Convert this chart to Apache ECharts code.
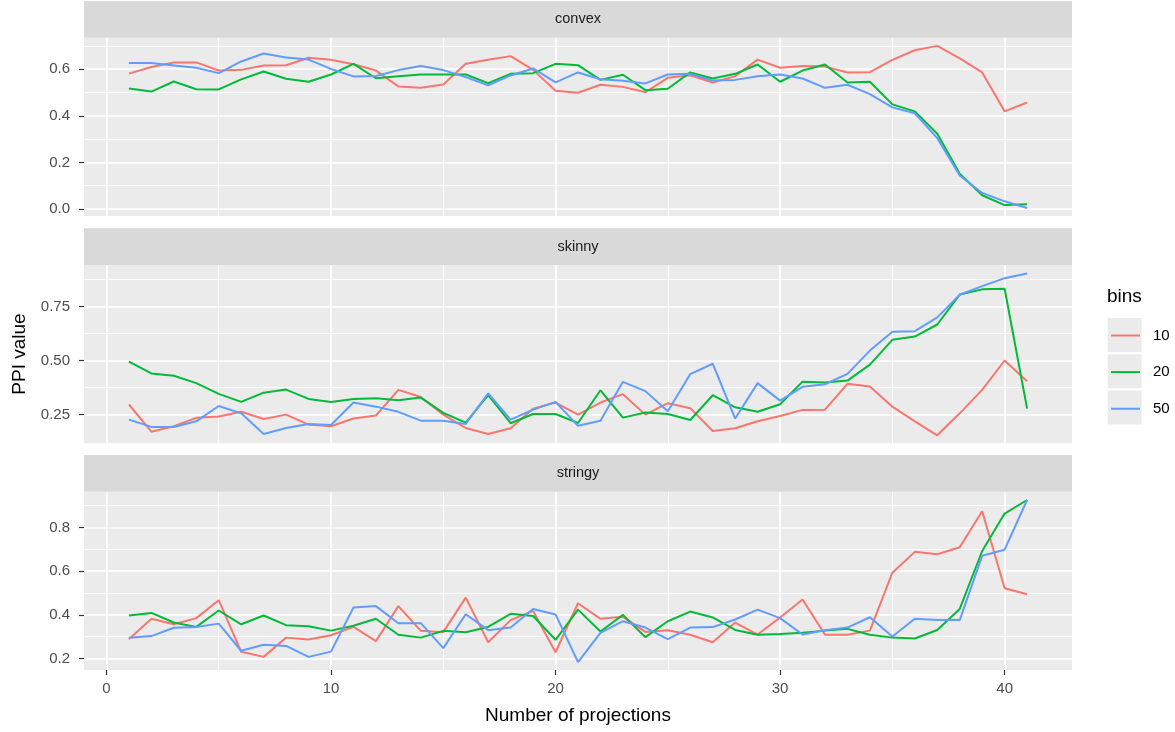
<!DOCTYPE html>
<html>
<head>
<meta charset="utf-8">
<title>PPI value by number of projections</title>
<script src="https://cdn.jsdelivr.net/npm/echarts@6/dist/echarts.min.js"></script>
<style>
  html, body { margin: 0; padding: 0; background: #ffffff; }
  #chart { width: 1175px; height: 732px; }
</style>
</head>
<body>
<div id="chart"></div>
<script>
// data
const projections = [1, 2, 3, 4, 5, 6, 7, 8, 9, 10, 11, 12, 13, 14, 15, 16, 17, 18, 19, 20,
  21, 22, 23, 24, 25, 26, 27, 28, 29, 30, 31, 32, 33, 34, 35, 36, 37, 38, 39, 40, 41]
const facets = ['convex', 'skinny', 'stringy']
const bins = ['10', '20', '50']

const convex10 = [0.581, 0.609, 0.629, 0.629, 0.594, 0.597, 0.616, 0.617, 0.649, 0.640, 0.621, 0.594, 0.526, 0.520, 0.534, 0.623, 0.640, 0.656, 0.597, 0.507,
  0.499, 0.533, 0.524, 0.501, 0.563, 0.574, 0.543, 0.570, 0.641, 0.606, 0.614, 0.611, 0.586, 0.587, 0.640, 0.681, 0.700, 0.646, 0.586, 0.419, 0.457]
const convex20 = [0.517, 0.504, 0.547, 0.514, 0.513, 0.556, 0.590, 0.559, 0.546, 0.577, 0.623, 0.561, 0.570, 0.577, 0.577, 0.577, 0.540, 0.580, 0.583, 0.623,
  0.617, 0.554, 0.576, 0.510, 0.516, 0.586, 0.560, 0.580, 0.620, 0.546, 0.594, 0.620, 0.543, 0.546, 0.449, 0.419, 0.323, 0.151, 0.059, 0.017, 0.020]
const convex50 = [0.626, 0.626, 0.616, 0.606, 0.583, 0.633, 0.667, 0.650, 0.641, 0.601, 0.569, 0.571, 0.596, 0.614, 0.596, 0.566, 0.531, 0.573, 0.603, 0.543,
  0.586, 0.557, 0.550, 0.539, 0.577, 0.580, 0.551, 0.554, 0.570, 0.577, 0.560, 0.520, 0.533, 0.493, 0.436, 0.411, 0.304, 0.144, 0.069, 0.033, 0.004]

const skinny10 = [0.296, 0.170, 0.195, 0.234, 0.240, 0.262, 0.229, 0.249, 0.203, 0.195, 0.231, 0.245, 0.364, 0.331, 0.249, 0.187, 0.159, 0.186, 0.276, 0.305,
  0.249, 0.305, 0.344, 0.249, 0.302, 0.279, 0.173, 0.186, 0.218, 0.243, 0.271, 0.272, 0.392, 0.379, 0.286, 0.218, 0.153, 0.255, 0.364, 0.500, 0.404]
const skinny20 = [0.495, 0.440, 0.429, 0.395, 0.345, 0.308, 0.351, 0.365, 0.322, 0.308, 0.322, 0.325, 0.316, 0.328, 0.257, 0.212, 0.339, 0.209, 0.252, 0.252,
  0.210, 0.362, 0.235, 0.259, 0.252, 0.224, 0.339, 0.283, 0.262, 0.297, 0.402, 0.398, 0.407, 0.481, 0.596, 0.611, 0.667, 0.806, 0.830, 0.833, 0.277]
const skinny50 = [0.226, 0.192, 0.192, 0.218, 0.289, 0.255, 0.159, 0.187, 0.206, 0.201, 0.305, 0.286, 0.262, 0.221, 0.221, 0.206, 0.348, 0.226, 0.272, 0.308,
  0.197, 0.221, 0.401, 0.358, 0.265, 0.437, 0.485, 0.231, 0.395, 0.314, 0.378, 0.390, 0.438, 0.546, 0.633, 0.636, 0.700, 0.805, 0.845, 0.882, 0.904]

const stringy10 = [0.289, 0.382, 0.357, 0.385, 0.467, 0.231, 0.208, 0.296, 0.287, 0.307, 0.345, 0.280, 0.440, 0.327, 0.321, 0.479, 0.275, 0.376, 0.418, 0.229,
  0.453, 0.382, 0.391, 0.322, 0.330, 0.309, 0.275, 0.365, 0.310, 0.388, 0.470, 0.309, 0.309, 0.328, 0.593, 0.688, 0.677, 0.709, 0.874, 0.522, 0.494]
const stringy20 = [0.397, 0.409, 0.365, 0.345, 0.420, 0.357, 0.397, 0.353, 0.348, 0.328, 0.350, 0.382, 0.309, 0.296, 0.327, 0.321, 0.345, 0.405, 0.395, 0.286,
  0.424, 0.324, 0.400, 0.298, 0.371, 0.415, 0.388, 0.331, 0.309, 0.312, 0.318, 0.328, 0.336, 0.309, 0.296, 0.292, 0.331, 0.427, 0.692, 0.863, 0.925]
const stringy50 = [0.295, 0.303, 0.341, 0.345, 0.360, 0.236, 0.263, 0.258, 0.208, 0.232, 0.434, 0.440, 0.362, 0.362, 0.248, 0.403, 0.330, 0.342, 0.427, 0.402,
  0.184, 0.318, 0.371, 0.342, 0.289, 0.342, 0.344, 0.379, 0.424, 0.385, 0.310, 0.330, 0.342, 0.389, 0.301, 0.382, 0.376, 0.376, 0.670, 0.698, 0.925]

// tick labels
const xTicks = [0, 10, 20, 30, 40]
const xMinor = [5, 15, 25, 35]
const yTicks = [[0, 0.2, 0.4, 0.6], [0.25, 0.5, 0.75], [0.2, 0.4, 0.6, 0.8]]
const yMinor = [[0.1, 0.3, 0.5, 0.7], [0.375, 0.625, 0.875], [0.3, 0.5, 0.7, 0.9]]
const yDigits = [1, 2, 1]

const panelValues = [
  [convex10, convex20, convex50],
  [skinny10, skinny20, skinny50],
  [stringy10, stringy20, stringy50]
]

// layout (ggplot facet_wrap look)
const colors = ['#F8766D', '#00BA38', '#619CFF']
const font = '"Liberation Sans", Arial, Helvetica, sans-serif'
const panelLeft = 84
const panelRight = 1072
const panelTops = [37.7, 265, 491.7]
const panelHeight = 178.3
const stripHeight = 36.7
const yRanges = [[-0.03, 0.735], [0.116, 0.943], [0.148, 0.963]]

const grids = []
const xAxes = []
const yAxes = []
const series = []
const graphics = []

facets.forEach((name, i) => {
  grids.push({
    left: panelLeft,
    top: panelTops[i],
    width: panelRight - panelLeft,
    height: panelHeight,
    show: true,
    backgroundColor: '#EBEBEB',
    borderWidth: 0
  })

  // strip
  graphics.push({
    type: 'rect',
    shape: { x: panelLeft, y: panelTops[i] - stripHeight, width: panelRight - panelLeft, height: stripHeight },
    style: { fill: '#D9D9D9' }
  })
  graphics.push({
    type: 'text',
    x: (panelLeft + panelRight) / 2,
    y: panelTops[i] - stripHeight / 2,
    style: { text: name, fill: '#1A1A1A', font: '14.5px ' + font, textAlign: 'center', textVerticalAlign: 'middle' }
  })

  const isBottom = i === facets.length - 1
  xAxes.push({
    type: 'value', gridIndex: i, min: -1, max: 43, z: 1,
    axisLine: { show: false, onZero: false },
    axisTick: { show: isBottom, customValues: xTicks, length: 5, lineStyle: { color: '#333333', width: 1.2 } },
    axisLabel: { show: isBottom, customValues: xTicks, margin: 11, color: '#4D4D4D', fontSize: 15, fontFamily: font },
    splitLine: { show: true, lineStyle: { color: '#FFFFFF', width: 1.7 } }
  })
  yAxes.push({
    type: 'value', gridIndex: i, min: yRanges[i][0], max: yRanges[i][1], z: 1,
    axisLine: { show: false, onZero: false },
    axisTick: { show: true, customValues: yTicks[i], length: 5, lineStyle: { color: '#333333', width: 1.2 } },
    axisLabel: {
      customValues: yTicks[i], margin: 14, color: '#4D4D4D', fontSize: 15, fontFamily: font,
      formatter: v => v.toFixed(yDigits[i])
    },
    splitLine: { show: true, lineStyle: { color: '#FFFFFF', width: 1.7 } }
  })

  bins.forEach((b, k) => {
    series.push({
      name: b,
      type: 'line',
      xAxisIndex: i,
      yAxisIndex: i,
      data: projections.map((p, j) => [p, panelValues[i][k][j]]),
      showSymbol: false,
      symbol: 'none',
      lineStyle: { color: colors[k], width: 2 },
      itemStyle: { color: colors[k] },
      animation: false
    })
  })
})

// minor grid lines, drawn under the major ones
facets.forEach((name, i) => {
  xAxes.push({
    type: 'value', gridIndex: i, min: -1, max: 43, z: 0,
    axisLine: { show: false, onZero: false },
    axisTick: { show: false, customValues: xMinor },
    axisLabel: { show: false, customValues: xMinor },
    splitLine: { show: true, lineStyle: { color: '#FFFFFF', width: 0.9 } }
  })
  yAxes.push({
    type: 'value', gridIndex: i, min: yRanges[i][0], max: yRanges[i][1], z: 0,
    axisLine: { show: false, onZero: false },
    axisTick: { show: false, customValues: yMinor[i] },
    axisLabel: { show: false, customValues: yMinor[i] },
    splitLine: { show: true, lineStyle: { color: '#FFFFFF', width: 0.9 } }
  })
})

// legend title and key backgrounds
graphics.push({
  type: 'text', x: 1107, y: 297,
  style: { text: 'bins', fill: '#000000', font: '19px ' + font, textVerticalAlign: 'middle' }
})
bins.forEach((b, k) => {
  graphics.push({
    type: 'rect',
    shape: { x: 1107.7, y: 318 + k * 36.3, width: 34, height: 34 },
    style: { fill: '#EBEBEB' },
    z: -1
  })
})

// axis titles
graphics.push({
  type: 'text', x: (panelLeft + panelRight) / 2, y: 716,
  style: { text: 'Number of projections', fill: '#000000', font: '19px ' + font, textAlign: 'center', textVerticalAlign: 'middle' }
})
graphics.push({
  type: 'text', x: 20, y: 354, rotation: Math.PI / 2,
  style: { text: 'PPI value', fill: '#000000', font: '19px ' + font, textAlign: 'center', textVerticalAlign: 'middle' }
})

const chart = echarts.init(document.getElementById('chart'))
chart.setOption({
  backgroundColor: '#FFFFFF',
  animation: false,
  grid: grids,
  xAxis: xAxes,
  yAxis: yAxes,
  series: series,
  legend: {
    data: bins,
    orient: 'vertical',
    left: 1105,
    top: 323,
    itemWidth: 29,
    itemHeight: 14,
    itemGap: 21.6,
    selectedMode: false,
    itemStyle: { opacity: 0 },
    textStyle: { color: '#000000', fontSize: 15, fontFamily: font, padding: [0, 0, 0, 8] }
  },
  graphic: graphics
})
</script>
</body>
</html>
